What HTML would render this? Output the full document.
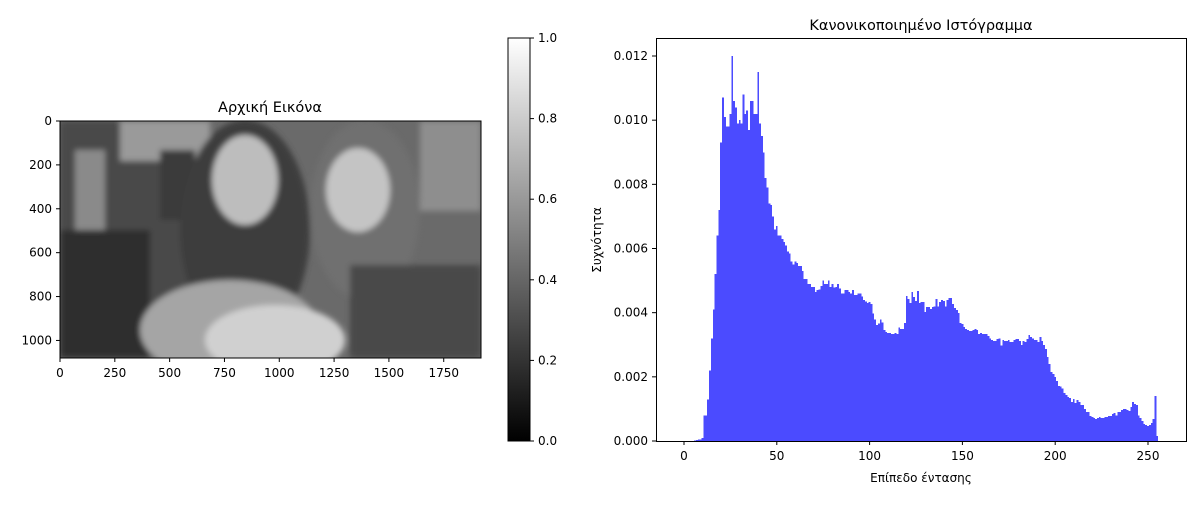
<!DOCTYPE html>
<html><head><meta charset="utf-8">
<style>
body{margin:0;background:#fff;font-family:"Liberation Sans","DejaVu Sans",sans-serif;}
svg text{font-family:"DejaVu Sans","Liberation Sans",sans-serif;font-size:12px;fill:#000}
</style></head>
<body>
<svg id="fig" width="1200" height="500" xmlns="http://www.w3.org/2000/svg">
<defs>
<linearGradient id="cb" x1="0" y1="1" x2="0" y2="0"><stop offset="0" stop-color="#000"/><stop offset="1" stop-color="#fff"/></linearGradient>
<filter id="blur"><feGaussianBlur stdDeviation="3"/></filter>
<clipPath id="imgclip"><rect x="60" y="121" width="421" height="237"/></clipPath>
</defs>
<g clip-path="url(#imgclip)">
  <rect x="60" y="121" width="421" height="237" fill="#6a6a6a"/>
  <g filter="url(#blur)">
  <rect x="60" y="121" width="140" height="237" fill="#4a4a4a"/>
  <rect x="120" y="121" width="90" height="40" fill="#9a9a9a"/>
  <rect x="75" y="150" width="30" height="80" fill="#8a8a8a"/>
  <rect x="60" y="230" width="90" height="128" fill="#2e2e2e"/>
  <rect x="160" y="150" width="35" height="70" fill="#3a3a3a"/>
  <ellipse cx="245" cy="230" rx="65" ry="110" fill="#3c3c3c"/>
  <ellipse cx="245" cy="180" rx="33" ry="45" fill="#bdbdbd"/>
  <ellipse cx="365" cy="210" rx="55" ry="90" fill="#6f6f6f"/>
  <ellipse cx="358" cy="190" rx="32" ry="42" fill="#c4c4c4"/>
  <rect x="420" y="121" width="61" height="90" fill="#8e8e8e"/>
  <ellipse cx="230" cy="330" rx="90" ry="50" fill="#a5a5a5"/>
  <ellipse cx="275" cy="340" rx="70" ry="35" fill="#d0d0d0"/>
  <rect x="350" y="265" width="131" height="93" fill="#4a4a4a"/>
  </g>
</g>
<rect x="60" y="121" width="421" height="237" fill="none" stroke="#000" stroke-width="1"/>
<text x="270" y="112" text-anchor="middle" style="font-size:14.5px">Αρχική Εικόνα</text>
<g id="imgax"></g>
<rect x="508" y="38" width="22" height="403" fill="url(#cb)" stroke="#000" stroke-width="1"/>
<g id="cbax"></g>
<text x="921" y="30" text-anchor="middle" style="font-size:14.5px">Κανονικοποιημένο Ιστόγραμμα</text>
<g id="bars" shape-rendering="crispEdges"></g>
<rect x="656.5" y="38.5" width="530" height="403" fill="none" stroke="#000" stroke-width="1"/>
<g id="hax"></g>
<text x="921" y="482" text-anchor="middle">Επίπεδο έντασης</text>
<text x="0" y="0" transform="translate(601,240) rotate(-90)" text-anchor="middle">Συχνότητα</text>
</svg>
<script>
const NS="http://www.w3.org/2000/svg";
const histHead=[0,0,0,0,0,0,0.02,0.03,0.05,0.05,0.1,0.8,0.8,1.3,2.2,3.2,4.1,5.2,6.4,7.2,
9.3,10.7,10.1,9.8,9.8,10.2,12.0,10.6,10.4,9.9,10.0,9.9,10.8,10.2,10.3,9.7,10.6,10.6,10.2,10.2,
11.5,9.9,9.5,9.0,8.2,7.9,7.4,7.35,7.0,6.6,6.7,6.4,6.4,6.3,6.2,6.1,5.9,5.85,5.6,5.5,
5.6,5.55,5.45,5.45,5.3,5.05,5.05,4.9,4.9,4.8,4.8,4.65,4.7,4.72,4.83,5.0,4.9,4.9,5.0,4.8,
4.9,4.78,4.8,4.9,4.75,4.6,4.6,4.7,4.7,4.65,4.6,4.7,4.55,4.55,4.6,4.6,4.5,4.4,4.35,4.3];
const histTail=[4.34,4.27,3.98,3.78,3.62,3.67,3.78,3.7,3.46,3.4,3.36,3.36,3.33,3.34,3.36,3.34,3.54,3.49,3.49,3.68,
4.52,4.43,4.3,4.65,4.49,4.37,4.68,4.3,4.33,4.33,4.02,4.18,4.18,4.12,4.18,4.2,4.43,4.2,4.33,4.4,
4.37,4.2,4.4,4.46,4.46,4.27,4.15,4.08,3.99,3.68,3.65,3.55,3.49,3.46,3.43,3.43,3.46,3.49,3.46,3.33,
3.36,3.33,3.33,3.33,3.27,3.2,3.15,3.12,3.12,3.18,3.2,2.97,3.15,3.12,3.12,3.15,3.09,3.09,3.15,3.18,
3.18,3.12,2.99,3.12,3.09,3.18,3.3,3.24,3.2,3.15,3.15,3.09,3.24,3.12,2.99,2.87,2.62,2.4,2.15,2.09,
2.0,1.87,1.72,1.7,1.63,1.5,1.44,1.37,1.34,1.22,1.31,1.18,1.28,1.22,1.12,1.12,1.0,0.9,0.9,0.78,
0.75,0.72,0.69,0.72,0.75,0.72,0.72,0.75,0.75,0.78,0.78,0.84,0.87,0.8,0.9,0.9,0.97,1.0,1.0,0.97,
0.94,1.06,1.22,1.15,1.12,0.8,0.72,0.62,0.53,0.5,0.47,0.5,0.56,0.69,1.4,0.15];
const histValues=histHead.concat(histTail); // units of 1e-3
const histXTicks=[0,50,100,150,200,250];
const histYTicks=[0,0.002,0.004,0.006,0.008,0.010,0.012];
const imgXTicks=[0,250,500,750,1000,1250,1500,1750];
const imgYTicks=[0,200,400,600,800,1000];
const cbTicks=[0.0,0.2,0.4,0.6,0.8,1.0];

const hx=v=>684+v*1.856;
const hy=v=>441-v*32083;
const ix=v=>60+v*421/1920;
const iy=v=>121+v*237/1080;
const cy=v=>441-v*403;

function mk(tag,attrs,parent,txt){const e=document.createElementNS(NS,tag);for(const k in attrs)e.setAttribute(k,attrs[k]);if(txt!==undefined)e.textContent=txt;parent.appendChild(e);return e;}

const bars=document.getElementById('bars');
histValues.forEach((v,i)=>{
  const h=v*0.001*32083;
  const r=mk('rect',{x:hx(i)-0.93,y:hy(v*0.001),width:1.86,height:h,fill:'#4b4bff'},bars);
  
  
});
const hax=document.getElementById('hax');
histXTicks.forEach(t=>{
  const x=hx(t);
  mk('line',{x1:x,y1:441.5,x2:x,y2:445,stroke:'#000'},hax);
  const tx=mk('text',{x:x,y:460,'text-anchor':'middle'},hax,String(t));
  
  
});
histYTicks.forEach(t=>{
  const y=hy(t);
  mk('line',{x1:652,y1:y,x2:656.5,y2:y,stroke:'#000'},hax);
  const tx=mk('text',{x:648,y:y+4,'text-anchor':'end'},hax,t.toFixed(3));
  
  
});
const iax=document.getElementById('imgax');
imgXTicks.forEach(t=>{
  const x=ix(t);
  mk('line',{x1:x,y1:358,x2:x,y2:362,stroke:'#000'},iax);
  const tx=mk('text',{x:x,y:377,'text-anchor':'middle'},iax,String(t));
  
  
});
imgYTicks.forEach(t=>{
  const y=iy(t);
  mk('line',{x1:56,y1:y,x2:60,y2:y,stroke:'#000'},iax);
  const tx=mk('text',{x:52,y:y+4,'text-anchor':'end'},iax,String(t));
  
  
});
const cax=document.getElementById('cbax');
cbTicks.forEach(t=>{
  const y=cy(t);
  mk('line',{x1:530,y1:y,x2:534,y2:y,stroke:'#000'},cax);
  const tx=mk('text',{x:538,y:y+4},cax,t.toFixed(1));
  
  
});
</script>
</body></html>
